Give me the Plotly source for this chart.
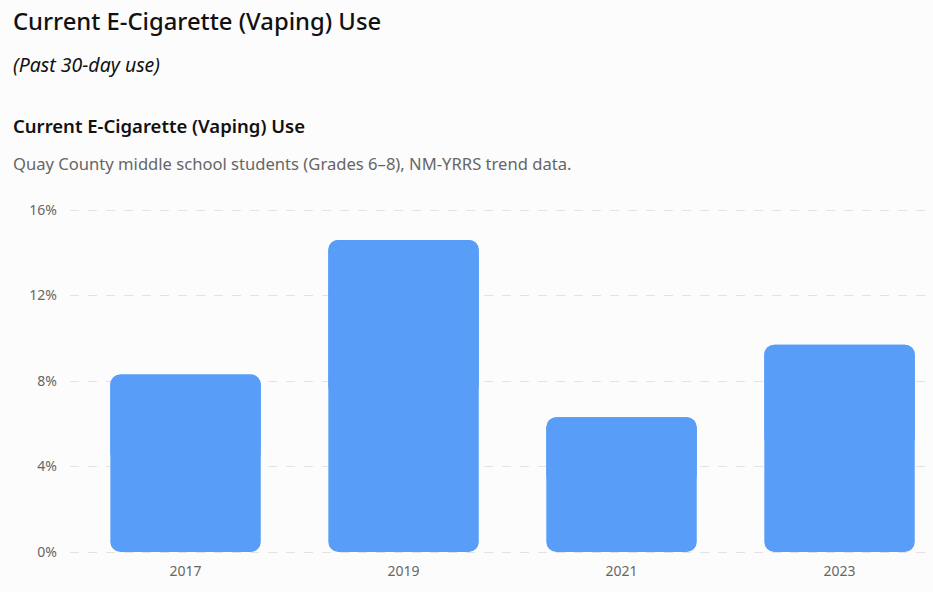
import plotly.graph_objects as go

years = ["2017", "2019", "2021", "2023"]
values = [8.3, 14.6, 6.3, 9.7]
tick_vals = [0, 4, 8, 12, 16]
tick_text = ["0%", "4%", "8%", "12%", "16%"]

main_title = "Current E-Cigarette (Vaping) Use"
main_subtitle = "(Past 30-day use)"
chart_title = "Current E-Cigarette (Vaping) Use"
chart_desc = "Quay County middle school students (Grades 6\u20138), NM-YRRS trend data."

W, H = 933, 592
ML, MR, MT, MB = 70, 3, 206, 36
PW = W - ML - MR
PH = H - MT - MB
PX_PER_UNIT = (552 - 210) / 16.0
Y0 = -((H - MB) - 552) / PX_PER_UNIT
Y1 = 16 + (210 - MT) / PX_PER_UNIT

def px_x(px):
    return (px - ML) / PW

def px_y(py):
    return (H - MB - py) / PH

FONT = "Noto Sans, Open Sans, sans-serif"
BAR_COLOR = "#589df8"

halves = [v / 2 for v in values]

fig = go.Figure()
# full bar drawn downward from the value to zero: rounded bottom corners
fig.add_trace(go.Bar(
    x=years, y=[-v for v in values], base=values,
    marker=dict(color=BAR_COLOR, cornerradius=10, line=dict(width=0)),
    width=0.69,
    customdata=values,
    hovertemplate="%{x}: %{customdata}%<extra></extra>",
))
# upper half drawn upward: rounded top corners, covers the square top of the first
fig.add_trace(go.Bar(
    x=years, y=halves, base=halves,
    marker=dict(color=BAR_COLOR, cornerradius=10, line=dict(width=0)),
    width=0.69,
    customdata=values,
    hovertemplate="%{x}: %{customdata}%<extra></extra>",
))

annots = [
    dict(text=main_title, px=11, py=21, size=23.8, color="#111111", weight=500, style="normal"),
    dict(text=main_subtitle, px=11, py=64, size=19.5, color="#111111", weight=400, style="italic"),
    dict(text=chart_title, px=11, py=126, size=18.5, color="#111111", weight=600, style="normal"),
    dict(text=chart_desc, px=11, py=163, size=16.6, color="#666666", weight=400, style="normal"),
]
annotations = []
for a in annots:
    annotations.append(dict(
        text=a["text"], xref="paper", yref="paper",
        x=px_x(a["px"]), y=px_y(a["py"]), xanchor="left", yanchor="middle",
        showarrow=False,
        font=dict(family=FONT, size=a["size"], color=a["color"],
                  weight=a["weight"], style=a["style"]),
    ))

fig.update_layout(
    width=W, height=H,
    margin=dict(l=ML, r=MR, t=MT, b=MB, pad=0),
    paper_bgcolor="#fcfcfc", plot_bgcolor="#fcfcfc",
    showlegend=False,
    barmode="overlay",
    annotations=annotations,
    font=dict(family=FONT, color="#666666", size=14),
    xaxis=dict(
        type="category", range=[-0.53, 3.415],
        showgrid=False, zeroline=False, showline=False,
        ticks="", tickfont=dict(size=14, color="#666666"),
        ticklabelstandoff=5,
    ),
    yaxis=dict(
        range=[Y0, Y1], tickvals=tick_vals, ticktext=tick_text,
        showgrid=True, gridcolor="#e3e3e3", griddash="dash", gridwidth=1,
        zeroline=False, showline=False, ticks="",
        ticklabelstandoff=12,
        tickfont=dict(size=14, color="#666666"),
    ),
)

fig.write_html("out.html", config={"displayModeBar": False},
               post_script="document.body.style.margin='0';")
